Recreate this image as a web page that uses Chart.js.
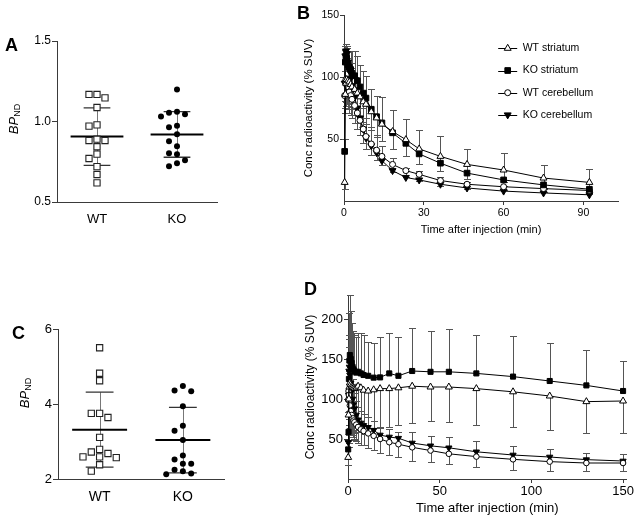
<!DOCTYPE html>
<html>
<head>
<meta charset="utf-8">
<script src="https://cdn.jsdelivr.net/npm/chart.js@4.4.1/dist/chart.umd.min.js"></script>
<style>
  html, body { margin:0; padding:0; background:#fff; }
  body { width:640px; height:522px; position:relative; overflow:hidden; font-family:'Liberation Sans', Arial, sans-serif; color:#000; }
  .box { position:absolute; }
  .box canvas { display:block; }
  .panel { position:absolute; font-weight:bold; font-size:18px; line-height:18px; }
  .ytitle { position:absolute; width:60px; height:16px; line-height:16px; text-align:center; white-space:nowrap; font-size:13px; transform:rotate(-90deg); }
  .ytitle i { font-style:italic; }
  .ytitle sub { font-size:9px; line-height:0; vertical-align:-2px; }
</style>
</head>
<body>
<div class="box" style="left:0;top:0;width:232px;height:240px"><canvas id="chartA"></canvas></div>
<div class="box" style="left:290px;top:0;width:340px;height:240px"><canvas id="chartB"></canvas></div>
<div class="box" style="left:0;top:250px;width:240px;height:272px"><canvas id="chartC"></canvas></div>
<div class="box" style="left:290px;top:270px;width:345px;height:252px"><canvas id="chartD"></canvas></div>
<div class="panel" style="left:5px;top:36px">A</div>
<div class="panel" style="left:297px;top:4px">B</div>
<div class="panel" style="left:12px;top:324px">C</div>
<div class="panel" style="left:304px;top:280px">D</div>
<div class="ytitle" style="left:-16px;top:111px"><i>BP</i><sub>ND</sub></div>
<div class="ytitle" style="left:-5px;top:385px"><i>BP</i><sub>ND</sub></div>
<script>
// ---------------- DATA ----------------
const categories = ['WT', 'KO'];

// Panel A: BP_ND per animal
const aWT = [1.168, 1.147, 1.168, 1.087, 0.971, 0.979, 0.882, 0.882, 0.890, 0.843, 0.797, 0.770, 0.720, 0.671, 0.619];
const aKO = [1.199, 1.054, 1.031, 1.045, 1.060, 0.973, 0.965, 0.921, 0.878, 0.847, 0.803, 0.797, 0.760, 0.722, 0.741];
const aYTicks = [0.5, 1.0, 1.5];

// Panel C: BP_ND per animal
const cWT = [5.50, 4.82, 4.62, 3.75, 3.64, 3.75, 3.11, 2.79, 2.68, 2.59, 2.57, 2.59, 2.72, 2.38, 2.21];
const cKO = [4.36, 4.34, 4.48, 3.94, 3.42, 3.29, 3.04, 2.63, 2.41, 2.41, 2.52, 2.21, 2.13, 2.15, 2.25];
const cYTicks = [2, 4, 6];

const seriesLabels = ['WT striatum', 'KO striatum', 'WT cerebellum', 'KO cerebellum'];

// Panel B: time-activity curves (min, % SUV)
const tB = [0.25, 0.5, 0.75, 1, 1.5, 2, 2.5, 3, 4, 5, 6, 7.25, 8.25, 10.25, 12.25, 14.25, 18.25, 23.25, 28.25, 36.25, 46.25, 60, 75, 92.25];
const bWTstr   = [15, 86, 95, 98, 97, 96, 94, 92, 90, 87, 84, 80, 78, 72, 67, 62, 56, 49.5, 42, 36, 29.5, 25, 18.5, 15];
const bWTstrSD = [5, 15, 18, 20, 18, 17, 17, 16, 16, 16, 16, 16, 16, 15, 15, 14, 14, 13, 12, 12, 12, 10, 9, 8];
const bKOstr   = [40, 112, 117, 115, 110, 108, 106, 103, 101, 97, 92, 87, 83, 74, 68, 63, 55, 46.5, 38, 30.5, 22.5, 17, 13, 9.5];
const bKOstrSD = [10, 10, 8, 8, 10, 12, 15, 18, 20, 20, 18, 18, 18, 16, 17, 21, 18, 20, 19, 22, 19.5, 22, 16, 16.5];
const bWTcb    = [85, 96, 98, 96, 92, 88, 85, 82, 77, 71, 65, 58, 52, 46, 41, 36, 29.5, 24.5, 21.5, 16.5, 13.5, 11.5, 10, 8.5];
const bWTcbSD  = [10, 15, 18, 18, 18, 17, 16, 15, 14, 13, 12, 11, 10, 9, 8, 7, 6, 5, 5, 4, 4, 3, 3, 3];
const bKOcb    = [95, 117, 121, 119, 112, 105, 99, 93, 84, 75, 67, 58, 51, 44.5, 39, 32.5, 24.5, 19, 17, 13.5, 10.5, 8, 6.5, 5];
const bKOcbSD  = [10, 8, 6, 6, 8, 10, 12, 14, 16, 17, 17, 17, 16, 15, 14, 12, 10, 8, 7, 6, 5, 4, 4, 3];
const bXTicks = [0, 30, 60, 90];
const bYTicks = [50, 100, 150];

// Panel D: time-activity curves (min, % SUV)
const tD = [0.1, 0.3, 0.5, 0.75, 1, 1.5, 2, 2.5, 3, 3.5, 4.5, 5.5, 7, 8.5, 11, 14, 17.5, 22.5, 27.5, 35, 45, 55, 70, 90, 110, 130, 150];
const dWTstr   = [27, 80, 100, 115, 120, 118, 116, 115, 114, 113, 114, 116, 114, 111, 110, 111.5, 113, 113, 114, 116, 115, 115, 113, 109, 103.75, 96.7, 97.5];
const dWTstrSD = [10, 40, 55, 60, 60, 58, 55, 55, 55, 55, 55, 55, 55, 55, 50, 48, 49, 48, 46, 45.6, 43, 44, 46, 44.4, 43, 39.7, 40.5];
const dKOstr   = [37, 59, 125, 148, 155, 150, 145, 140, 137, 135, 133, 134, 132, 130, 129, 126.7, 127, 132, 129, 135, 134, 134, 132, 128, 122.5, 117, 110];
const dKOstrSD = [10, 20, 40, 60, 75, 60, 50, 45, 45, 45, 45, 48, 50, 50, 42, 43, 51, 50, 48, 54, 51, 54, 48, 51, 47, 44, 37.5];
const dWTcb    = [99, 110, 105, 98, 92, 85, 80, 76, 73, 71, 68, 65, 62, 60, 57, 54, 50, 46, 43.5, 39.6, 35.6, 31.5, 28, 24.6, 21.7, 20, 20];
const dWTcbSD  = [15, 25, 30, 30, 28, 26, 25, 24, 23, 22, 21, 20, 19, 18, 18, 18, 17, 16, 16.5, 16.6, 14.8, 12.75, 12.5, 13.4, 11.3, 10.4, 10.4];
const dKOcb    = [46, 105, 135, 140, 130, 120, 110, 100, 93, 88, 80, 74, 70, 67, 64.6, 61, 55, 52.5, 51, 45, 41.5, 39, 34, 30, 27.5, 24.2, 22.5];
const dKOcbSD  = [10, 30, 40, 40, 35, 30, 28, 25, 22, 20, 18, 16, 15, 14, 13, 12, 10, 10, 8, 14, 12.5, 13, 13, 10.8, 10.4, 8.8, 8.3];
const dXTicks = [0, 50, 100, 150];
const dYTicks = [50, 100, 150, 200];

// ---------------- STYLE / HELPERS ----------------
Chart.defaults.font.family = "'Liberation Sans', Arial, Helvetica, sans-serif";
Chart.defaults.color = '#000';
const AXIS = '#3a3a3a';

const seriesStyle = [
  { pointStyle: 'triangle', rotation: 0,   bg: '#fff', dir: -1 },
  { pointStyle: 'rect',     rotation: 0,   bg: '#000', dir:  1 },
  { pointStyle: 'circle',   rotation: 0,   bg: '#fff', dir: -1 },
  { pointStyle: 'triangle', rotation: 180, bg: '#000', dir:  1 }
];

const fixedTicks = values => scale => { scale.ticks = values.map(v => ({ value: v })); };
const xy = (t, v) => t.map((x, i) => ({ x, y: v[i] }));

// simple column scatter: avoid overlapping points within a group
function swarm(values, group, minGap, step) {
  const order = values.map((v, i) => i).sort((a, b) => values[b] - values[a]);
  const placed = [];
  const out = new Array(values.length);
  const slots = [0, -1, 1, -2, 2, -3, 3, -4, 4];
  order.forEach(i => {
    const v = values[i];
    for (const s of slots) {
      if (!placed.some(p => p.s === s && Math.abs(p.v - v) < minGap)) {
        placed.push({ s, v });
        out[i] = { x: group + s * step, y: v };
        break;
      }
    }
  });
  return out;
}

const meanSdPlugin = {
  id: 'meanSd',
  beforeDatasetsDraw(chart, args, opts) {
    const { ctx, scales: { x, y } } = chart;
    ctx.save();
    chart.data.datasets.forEach((ds, g) => {
      const vals = ds.data.map(p => p.y);
      const n = vals.length;
      const m = vals.reduce((a, b) => a + b, 0) / n;
      const sd = Math.sqrt(vals.reduce((a, b) => a + (b - m) * (b - m), 0) / (n - 1));
      const gx = g + 1;
      const cx = Math.round(x.getPixelForValue(gx)) + 0.5;
      const ym = y.getPixelForValue(m), yu = y.getPixelForValue(m + sd), yl = y.getPixelForValue(m - sd);
      ctx.strokeStyle = '#777'; ctx.lineWidth = 1;
      ctx.beginPath(); ctx.moveTo(cx, yu); ctx.lineTo(cx, yl); ctx.stroke();
      ctx.strokeStyle = '#333'; ctx.lineWidth = 1.3;
      const c0 = x.getPixelForValue(gx - opts.capHalf), c1 = x.getPixelForValue(gx + opts.capHalf);
      ctx.beginPath(); ctx.moveTo(c0, yu); ctx.lineTo(c1, yu); ctx.moveTo(c0, yl); ctx.lineTo(c1, yl); ctx.stroke();
      ctx.strokeStyle = '#000'; ctx.lineWidth = 2;
      const m0 = x.getPixelForValue(gx - opts.meanHalf), m1 = x.getPixelForValue(gx + opts.meanHalf);
      ctx.beginPath(); ctx.moveTo(m0, ym); ctx.lineTo(m1, ym); ctx.stroke();
    });
    ctx.restore();
  }
};

const errorBarPlugin = {
  id: 'errorBars',
  beforeDatasetsDraw(chart, args, opts) {
    const { ctx, scales: { x, y } } = chart;
    ctx.save();
    ctx.lineWidth = 1;
    chart.data.datasets.forEach(ds => {
      if (!ds.errors) return;
      ctx.strokeStyle = opts.color || '#555';
      ds.data.forEach((p, j) => {
        const px = Math.round(x.getPixelForValue(p.x)) + 0.5;
        const y0 = y.getPixelForValue(p.y);
        const y1 = Math.round(y.getPixelForValue(p.y + ds.errorDir * ds.errors[j])) + 0.5;
        ctx.beginPath();
        ctx.moveTo(px, y0); ctx.lineTo(px, y1);
        ctx.moveTo(px - opts.cap, y1); ctx.lineTo(px + opts.cap, y1);
        ctx.stroke();
      });
    });
    ctx.restore();
  }
};

const innerLegendPlugin = {
  id: 'innerLegend',
  afterDraw(chart, args, opts) {
    if (!opts.display) return;
    const ctx = chart.ctx;
    chart.data.datasets.forEach((ds, i) => {
      const cx = opts.x, cy = opts.y + i * opts.gap;
      ctx.save();
      ctx.strokeStyle = '#000'; ctx.lineWidth = 1;
      ctx.beginPath(); ctx.moveTo(cx - opts.half, Math.round(cy) + 0.5); ctx.lineTo(cx + opts.half, Math.round(cy) + 0.5); ctx.stroke();
      ctx.fillStyle = ds.pointBackgroundColor; ctx.strokeStyle = ds.pointBorderColor; ctx.lineWidth = ds.pointBorderWidth;
      Chart.helpers.drawPoint(ctx, { pointStyle: ds.pointStyle, rotation: ds.pointRotation || 0, radius: ds.pointRadius, borderWidth: ds.pointBorderWidth }, cx, cy);
      ctx.fillStyle = '#000';
      ctx.font = opts.fontSize + "px 'Liberation Sans', Arial, sans-serif";
      ctx.textBaseline = 'middle'; ctx.textAlign = 'left';
      ctx.fillText(ds.label, cx + opts.textOffset, cy);
      ctx.restore();
    });
  }
};

function dotChart(id, wt, ko, yTicks, cfg) {
  const yMin = yTicks[0], yMax = yTicks[yTicks.length - 1];
  const gap = (yMax - yMin) * 0.044;
  return new Chart(document.getElementById(id), {
    type: 'scatter',
    data: { datasets: [
      { label: categories[0], data: swarm(wt, 1, gap, 0.1), pointStyle: 'rect', pointRadius: 4.4,
        pointBackgroundColor: '#fff', pointBorderColor: '#222', pointBorderWidth: 1.1, clip: false },
      { label: categories[1], data: swarm(ko, 2, gap, 0.1), pointStyle: 'circle', pointRadius: 3,
        pointBackgroundColor: '#000', pointBorderColor: '#000', pointBorderWidth: 0, clip: false }
    ]},
    options: {
      responsive: true, maintainAspectRatio: false, animation: false, devicePixelRatio: 1,
      layout: { padding: cfg.padding },
      plugins: { legend: { display: false }, tooltip: { enabled: false }, meanSd: { meanHalf: 0.33, capHalf: 0.167 } },
      scales: {
        x: { type: 'linear', min: 0.5, max: 2.5, afterBuildTicks: fixedTicks([1, 2]),
             ticks: { callback: (v, i) => categories[i], font: { size: cfg.xFont }, padding: cfg.xPad, maxRotation: 0 },
             grid: { display: false }, border: { color: AXIS, width: 1 },
             afterFit: s => { s.height = cfg.xHeight; } },
        y: { type: 'linear', min: yMin, max: yMax, afterBuildTicks: fixedTicks(yTicks),
             ticks: { callback: v => cfg.fmt(v), font: { size: cfg.yFont }, padding: 1 },
             grid: { drawOnChartArea: false, tickLength: 5, color: AXIS }, border: { color: AXIS, width: 1 },
             afterFit: s => { s.width = cfg.yWidth; } }
      }
    },
    plugins: [meanSdPlugin]
  });
}

function curveChart(id, t, series, cfg) {
  const datasets = series.map((s, k) => ({
    label: seriesLabels[k], data: xy(t, s.v), errors: s.sd, errorDir: seriesStyle[k].dir,
    showLine: true, borderColor: '#000', borderWidth: 1, tension: 0,
    pointStyle: seriesStyle[k].pointStyle, pointRotation: seriesStyle[k].rotation, pointRadius: cfg.radius[k],
    pointBackgroundColor: seriesStyle[k].bg, pointBorderColor: '#000', pointBorderWidth: 1, clip: false
  }));
  return new Chart(document.getElementById(id), {
    type: 'scatter',
    data: { datasets },
    options: {
      responsive: true, maintainAspectRatio: false, animation: false, devicePixelRatio: 1,
      layout: { padding: cfg.padding },
      plugins: { legend: { display: false }, tooltip: { enabled: false },
                 errorBars: { cap: 3.5, color: '#555' }, innerLegend: cfg.legend },
      scales: {
        x: { type: 'linear', min: 0, max: cfg.xMax, afterBuildTicks: fixedTicks(cfg.xTicks),
             ticks: { font: { size: cfg.tickFont }, padding: cfg.xPad, maxRotation: 0 },
             grid: { drawOnChartArea: false, tickLength: 4, color: AXIS }, border: { color: AXIS, width: 1 },
             title: { display: true, text: 'Time after injection (min)', font: { size: cfg.xTitleFont }, padding: { top: 0, bottom: cfg.xTitlePad } },
             afterFit: s => { s.height = cfg.xHeight; } },
        y: { type: 'linear', min: 0, max: cfg.yMax, afterBuildTicks: fixedTicks(cfg.yTicks),
             ticks: { font: { size: cfg.tickFont }, padding: 1 },
             grid: { drawOnChartArea: false, tickLength: 4, color: AXIS }, border: { color: AXIS, width: 1 },
             title: { display: true, text: 'Conc radioactivity (% SUV)', font: { size: cfg.yTitleFont }, padding: { top: cfg.yTitlePad, bottom: 0 } },
             afterFit: s => { s.width = cfg.yWidth; } }
      }
    },
    plugins: [errorBarPlugin, innerLegendPlugin]
  });
}

// ---------------- CHARTS ----------------
dotChart('chartA', aWT, aKO, aYTicks, {
  padding: { left: 0, top: 41, right: 15, bottom: 0 },
  xHeight: 38, yWidth: 57, xFont: 13, yFont: 12, xPad: 2, fmt: v => v.toFixed(1)
});

dotChart('chartC', cWT, cKO, cYTicks, {
  padding: { left: 0, top: 79, right: 15.5, bottom: 0 },
  xHeight: 43, yWidth: 58, xFont: 14, yFont: 13, xPad: 1.5, fmt: v => String(v)
});

curveChart('chartB', tB, [
  { v: bWTstr, sd: bWTstrSD }, { v: bKOstr, sd: bKOstrSD },
  { v: bWTcb, sd: bWTcbSD }, { v: bKOcb, sd: bKOcbSD }
], {
  padding: { left: 0, top: 15, right: 12, bottom: 0 },
  xMax: 103, yMax: 150, xTicks: bXTicks, yTicks: bYTicks,
  xHeight: 39, yWidth: 54, tickFont: 10.5, xPad: 2,
  xTitleFont: 11, xTitlePad: 3, yTitleFont: 11.5, yTitlePad: 12,
  radius: [4, 4, 3, 4],
  legend: { display: true, x: 217.7, y: 48.3, gap: 22.2, half: 9.5, textOffset: 15, fontSize: 10.5 }
});

curveChart('chartD', tD, [
  { v: dWTstr, sd: dWTstrSD }, { v: dKOstr, sd: dKOstrSD },
  { v: dWTcb, sd: dWTcbSD }, { v: dKOcb, sd: dKOcbSD }
], {
  padding: { left: 0, top: 25, right: 8, bottom: 0 },
  xMax: 152, yMax: 230, xTicks: dXTicks, yTicks: dYTicks,
  xHeight: 43, yWidth: 58, tickFont: 13, xPad: 1,
  xTitleFont: 13, xTitlePad: 6, yTitleFont: 12, yTitlePad: 13,
  radius: [4, 3.6, 2.8, 3.6],
  legend: { display: false }
});
</script>
</body>
</html>
